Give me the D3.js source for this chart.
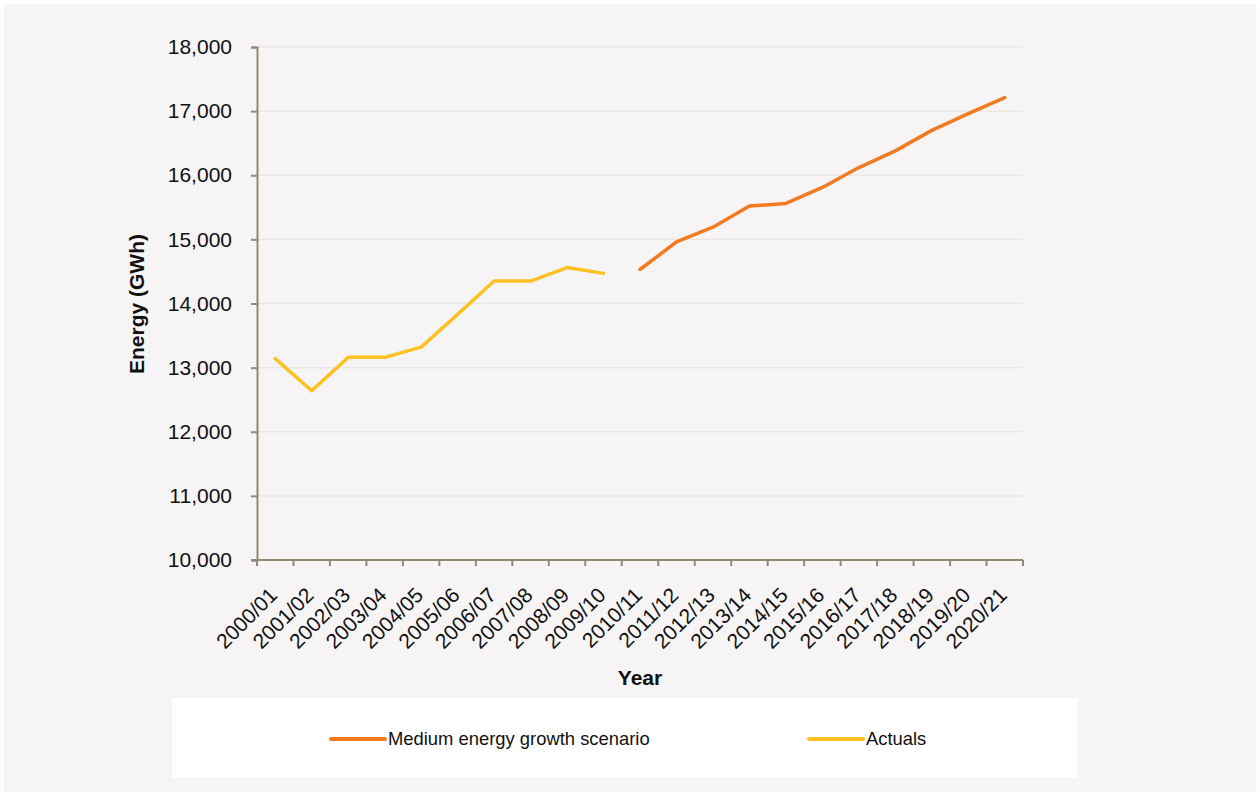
<!DOCTYPE html>
<html>
<head>
<meta charset="utf-8">
<script src="https://cdn.jsdelivr.net/npm/d3@7"></script>
<style>
  html, body { margin: 0; padding: 0; background: #ffffff; }
  svg { display: block; font-family: "Liberation Sans", Arial, sans-serif; }
</style>
</head>
<body>
<svg id="chart" width="1260" height="796"></svg>
<script>
// Financial years on the x axis
const years = ["2000/01","2001/02","2002/03","2003/04","2004/05","2005/06","2006/07",
  "2007/08","2008/09","2009/10","2010/11","2011/12","2012/13","2013/14","2014/15",
  "2015/16","2016/17","2017/18","2018/19","2019/20","2020/21"];

// Recorded energy (GWh), 2000/01 – 2009/10
const actuals = [13140, 12640, 13160, 13160, 13320, 13830, 14350, 14350, 14560, 14470,
  null, null, null, null, null, null, null, null, null, null, null];

// Medium energy growth scenario (GWh), 2010/11 – 2020/21
const medium = [null, null, null, null, null, null, null, null, null, null,
  14530, 14960, 15190, 15520, 15560, 15810, 16120, 16380, 16700, 16960, 17210];

const yTicks = [10000, 11000, 12000, 13000, 14000, 15000, 16000, 17000, 18000];

const seriesNames = ["Medium energy growth scenario", "Actuals"];
const seriesColors = ["#f47a20", "#fdc124"];

const svg = d3.select("#chart");
const axisColor = "#958872";
const gridColor = "#ebe8e3";

// panel background
svg.append("rect").attr("x", 4).attr("y", 4).attr("width", 1252).attr("height", 788)
  .attr("fill", "#f6f4f5");

const x = d3.scaleBand().domain(years).range([257, 1023]).padding(0);
const y = d3.scaleLinear().domain([10000, 18000]).range([560, 47]);

// horizontal gridlines
svg.append("g").selectAll("line").data(yTicks.slice(1)).join("line")
  .attr("x1", 257).attr("x2", 1023)
  .attr("y1", d => y(d)).attr("y2", d => y(d))
  .attr("stroke", gridColor).attr("stroke-width", 1.5);

// y axis
const yAxis = svg.append("g").attr("transform", "translate(257,0)")
  .call(d3.axisLeft(y).tickValues(yTicks).tickSize(6).tickPadding(19)
    .tickFormat(d3.format(",")));
yAxis.select(".domain").attr("stroke", axisColor).attr("stroke-width", 2);
yAxis.selectAll(".tick line").attr("stroke", axisColor).attr("stroke-width", 2);
yAxis.selectAll(".tick text").attr("font-size", 21).attr("fill", "#111")
  .attr("font-family", "Liberation Sans, Arial, sans-serif");

// x axis: line, ticks at category boundaries, rotated labels
const xAxis = svg.append("g");
xAxis.append("line").attr("x1", 251).attr("x2", 1023).attr("y1", y(10000)).attr("y2", y(10000))
  .attr("stroke", axisColor).attr("stroke-width", 2);
const bounds = years.map(d => x(d)).concat([x(years[years.length - 1]) + x.bandwidth()]);
xAxis.selectAll("line.tick").data(bounds).join("line").attr("class", "tick")
  .attr("x1", d => d).attr("x2", d => d)
  .attr("y1", y(10000)).attr("y2", y(10000) + 6)
  .attr("stroke", axisColor).attr("stroke-width", 2);
xAxis.selectAll("text").data(years).join("text")
  .attr("transform", d => `translate(${x(d) + x.bandwidth() / 2 - 7},${y(10000) + 26}) rotate(-45)`)
  .attr("text-anchor", "end").attr("dy", "0.7em")
  .attr("font-size", 21).attr("fill", "#111")
  .text(d => d);

// axis titles
svg.append("text").attr("x", 640).attr("y", 685).attr("text-anchor", "middle")
  .attr("font-size", 21).attr("font-weight", "bold").attr("fill", "#111").text("Year");
svg.append("text").attr("transform", "translate(144,304) rotate(-90)")
  .attr("text-anchor", "middle").attr("font-size", 21).attr("font-weight", "bold")
  .attr("fill", "#111").text("Energy (GWh)");

// series lines
const line = d3.line()
  .defined(d => d.v !== null)
  .x(d => x(d.year) + x.bandwidth() / 2)
  .y(d => y(d.v));

[medium, actuals].forEach((vals, i) => {
  svg.append("path")
    .datum(years.map((yr, j) => ({ year: yr, v: vals[j] })))
    .attr("fill", "none").attr("stroke", seriesColors[i]).attr("stroke-width", 3.5)
    .attr("stroke-linejoin", "round").attr("stroke-linecap", "round")
    .attr("d", line);
});

// legend
svg.append("rect").attr("x", 172).attr("y", 698).attr("width", 906).attr("height", 80)
  .attr("fill", "#ffffff");
const legendX = [331, 809];
seriesNames.forEach((name, i) => {
  const g = svg.append("g").attr("transform", `translate(${legendX[i]},739)`);
  g.append("line").attr("x1", 0).attr("x2", 54).attr("y1", 0).attr("y2", 0)
    .attr("stroke", seriesColors[i]).attr("stroke-width", 4).attr("stroke-linecap", "round");
  g.append("text").attr("x", 57).attr("y", 0).attr("dy", "0.35em")
    .attr("font-size", 18.4).attr("fill", "#111").text(name);
});
</script>
</body>
</html>
